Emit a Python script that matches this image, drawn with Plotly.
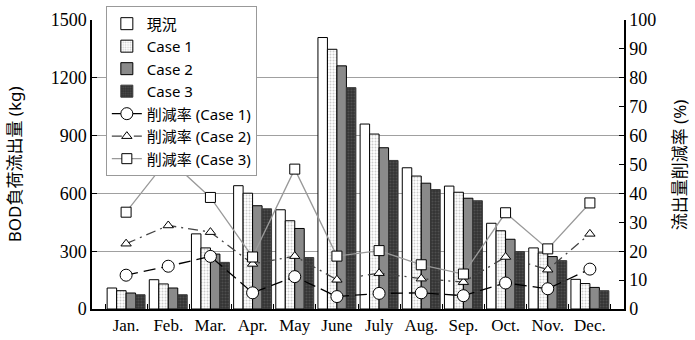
import plotly.graph_objects as go

months = ["Jan.", "Feb.", "Mar.", "Apr.", "May", "June", "July", "Aug.", "Sep.", "Oct.", "Nov.", "Dec."]

# BOD load outflow (kg)
current = [109, 152, 390, 640, 515, 1409, 960, 733, 638, 445, 317, 154]
case1 = [95, 130, 317, 601, 458, 1348, 908, 690, 606, 406, 291, 132]
case2 = [83, 109, 285, 536, 418, 1262, 837, 653, 575, 362, 272, 112]
case3 = [74, 74, 242, 520, 267, 1149, 771, 620, 562, 298, 251, 95]

# Outflow reduction rate (%)
rate1 = [11.7, 14.8, 18.2, 5.6, 11.2, 4.3, 5.4, 5.6, 4.6, 9.0, 7.0, 13.8]
rate2 = [22.6, 28.9, 26.6, 15.6, 18.3, 10.1, 12.4, 10.5, 9.3, 18.0, 13.6, 26.0]
rate3 = [33.5, 52.0, 38.6, 18.0, 48.4, 18.3, 20.2, 15.3, 12.1, 33.3, 20.8, 36.7]

SANS = "Noto Sans, Noto Sans CJK JP"
SERIF = "Liberation Serif"

fig = go.Figure()

outline = dict(color="black", width=1)

fig.add_trace(go.Bar(
    x=months, y=current, name="現況",
    marker=dict(color="white", line=outline),
))
fig.add_trace(go.Bar(
    x=months, y=case1, name="Case 1",
    marker=dict(color="white", line=outline,
                pattern=dict(shape=".", fgcolor="#9a9a9a", bgcolor="white",
                             size=3, solidity=0.35)),
))
fig.add_trace(go.Bar(
    x=months, y=case2, name="Case 2",
    marker=dict(color="#8a8a8a", line=outline),
))
fig.add_trace(go.Bar(
    x=months, y=case3, name="Case 3",
    marker=dict(color="#3a3a3a", line=dict(color="#3a3a3a", width=1),
                pattern=dict(shape=".", fgcolor="#6a6a6a", bgcolor="#333333",
                             size=3, solidity=0.4)),
))

fig.add_trace(go.Scatter(
    x=months, y=rate1, name="削減率 (Case 1)", yaxis="y2", mode="lines+markers",
    line=dict(color="black", width=1.3, dash="12px,6px"),
    marker=dict(symbol="circle", size=12, color="white", line=dict(color="black", width=1)),
))
fig.add_trace(go.Scatter(
    x=months, y=rate2, name="削減率 (Case 2)", yaxis="y2", mode="lines+markers",
    line=dict(color="#444444", width=1.3, dash="10px,5px,2px,5px"),
    marker=dict(symbol="triangle-up", size=9, color="white", line=dict(color="black", width=1)),
))
fig.add_trace(go.Scatter(
    x=months, y=rate3, name="削減率 (Case 3)", yaxis="y2", mode="lines+markers",
    line=dict(color="#999999", width=1.3),
    marker=dict(symbol="square", size=10, color="white", line=dict(color="black", width=1)),
))

fig.update_layout(
    width=695, height=340,
    margin=dict(l=92, r=71, t=20, b=31, autoexpand=False),
    paper_bgcolor="white", plot_bgcolor="white",
    barmode="group", bargap=0.1, bargroupgap=0,
    showlegend=True,
    legend=dict(
        x=0.026, y=1.047, xanchor="left", yanchor="top",
        bgcolor="white", bordercolor="#999999", borderwidth=1,
        font=dict(family=SANS, size=15, color="black"),
        tracegroupgap=0, itemwidth=30,
    ),
    xaxis=dict(
        type="category", showline=True, linecolor="black", linewidth=1.5,
        ticks="inside", tickson="boundaries", ticklen=5, tickcolor="black",
        tickangle=0, automargin=False,
        tickfont=dict(family=SERIF, size=17, color="black"),
        showgrid=False, mirror=False,
    ),
    yaxis=dict(
        range=[0, 1500], tickvals=[0, 300, 600, 900, 1200, 1500],
        showline=True, linecolor="black", linewidth=1.5,
        ticks="inside", ticklen=5, tickcolor="black", automargin=False,
        showgrid=True, gridcolor="#a0a0a0", gridwidth=1,
        tickfont=dict(family=SERIF, size=18, color="black"),
        zeroline=False,
    ),
    yaxis2=dict(
        overlaying="y", side="right", range=[0, 100], dtick=10,
        showline=True, linecolor="black", linewidth=1.5,
        ticks="inside", ticklen=5, tickcolor="black", automargin=False,
        showgrid=False, zeroline=False,
        tickfont=dict(family=SERIF, size=18, color="black"),
    ),
    annotations=[
        dict(text="BOD負荷流出量 (kg)", textangle=-90, xref="paper", yref="paper",
             x=-0.145, y=0.5, xanchor="center", yanchor="middle", showarrow=False,
             font=dict(family=SANS, size=17, color="black")),
        dict(text="流出量削減率 (%)", textangle=-90, xref="paper", yref="paper",
             x=1.105, y=0.5, xanchor="center", yanchor="middle", showarrow=False,
             font=dict(family=SANS, size=17, color="black")),
    ],
)

fig.write_html("out.html")
